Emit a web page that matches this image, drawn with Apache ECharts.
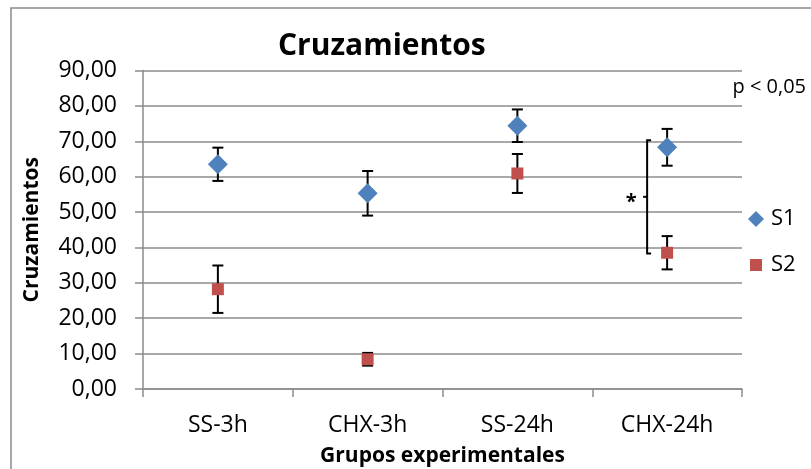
<!DOCTYPE html>
<html>
<head>
<meta charset="utf-8">
<script src="https://cdn.jsdelivr.net/npm/echarts@6/dist/echarts.min.js"></script>
<style>html,body{margin:0;padding:0;background:#fff}#c{width:811px;height:469px}</style>
</head>
<body>
<div id="c"></div>
<script>
const categories = ['SS-3h', 'CHX-3h', 'SS-24h', 'CHX-24h'];
const s1Values = [63.5, 55.3, 74.4, 68.3];
const s1Errors = [4.7, 6.3, 4.6, 5.2];
const s2Values = [28.2, 8.4, 60.9, 38.5];
const s2Errors = [6.7, 1.8, 5.5, 4.7];
const yTicks = [0, 10, 20, 30, 40, 50, 60, 70, 80, 90];
const bracketData = [[3, 38.3, 70.3]];
const pValueText = 'p < 0,05';

const FONT = 'Open Sans';
const chart = echarts.init(document.getElementById('c'));

function errData(vals, errs) {
  return vals.map((v, i) => [i, v - errs[i], v + errs[i]]);
}
function errRender(params, api) {
  const x = api.value(0);
  const lo = api.coord([x, api.value(1)]);
  const hi = api.coord([x, api.value(2)]);
  const w = 5.5;
  const st = { stroke: '#000', lineWidth: 2 };
  return {
    type: 'group',
    children: [
      { type: 'line', shape: { x1: hi[0], y1: hi[1], x2: lo[0], y2: lo[1] }, style: st },
      { type: 'line', shape: { x1: hi[0] - w, y1: hi[1], x2: hi[0] + w, y2: hi[1] }, style: st },
      { type: 'line', shape: { x1: lo[0] - w, y1: lo[1], x2: lo[0] + w, y2: lo[1] }, style: st }
    ]
  };
}
function bracketRender(params, api) {
  const x = api.value(0);
  const lo = api.coord([x, api.value(1)]);
  const hi = api.coord([x, api.value(2)]);
  const bx = lo[0] - 20;
  const mid = (lo[1] + hi[1]) / 2;
  const st = { stroke: '#000', lineWidth: 2, fill: null };
  return {
    type: 'group',
    children: [
      { type: 'polyline', shape: { points: [[bx + 4, hi[1]], [bx, hi[1]], [bx, lo[1]], [bx + 4, lo[1]]] }, style: st },
      { type: 'line', shape: { x1: bx - 4, y1: mid, x2: bx, y2: mid }, style: st },
      { type: 'text', x: bx - 16, y: mid + 5, style: { text: '*', font: 'bold 20px "' + FONT + '"', fill: '#000', align: 'center', verticalAlign: 'middle' } }
    ]
  };
}

const axisGray = '#8c8c8c';
chart.setOption({
  animation: false,
  backgroundColor: '#fff',
  title: {
    text: 'Cruzamientos', left: 278, top: 31, padding: 0,
    textStyle: { fontFamily: FONT, fontWeight: 'bold', fontSize: 30, color: '#000' }
  },
  graphic: [
    { type: 'rect', shape: { x: 11, y: 8, width: 900, height: 600 }, style: { fill: 'none', stroke: '#8a8a8a', lineWidth: 1.5 }, silent: true },
    { type: 'text', right: 5, top: 77, style: { text: pValueText, font: '20px "' + FONT + '"', fill: '#000' } }
  ],
  legend: [
    { data: [{ name: 'S1', icon: 'diamond' }], left: 748, top: 208, padding: 0, orient: 'vertical', itemWidth: 16, itemHeight: 16, itemGap: 0,
      textStyle: { fontFamily: FONT, fontSize: 22, color: '#000', padding: [0, 0, 0, 2] } },
    { data: [{ name: 'S2', icon: 'rect' }], left: 750, top: 254, padding: 0, orient: 'vertical', itemWidth: 12, itemHeight: 12, itemGap: 0,
      textStyle: { fontFamily: FONT, fontSize: 22, color: '#000', padding: [0, 0, 0, 4] } }
  ],
  grid: { left: 143, right: 69, top: 70.5, bottom: 80, containLabel: false, outerBoundsMode: 'none' },
  xAxis: {
    type: 'category', data: categories, boundaryGap: true,
    name: 'Grupos experimentales', nameLocation: 'middle', nameGap: 57,
    nameTextStyle: { fontFamily: FONT, fontWeight: 'bold', fontSize: 21, color: '#000' },
    axisLine: { lineStyle: { color: axisGray, width: 1.5 } },
    axisTick: { show: true, length: 8, inside: false, lineStyle: { color: axisGray, width: 1.5 }, alignWithLabel: false },
    axisLabel: { fontFamily: FONT, fontSize: 23, color: '#000', margin: 25 },
    splitLine: { show: false }
  },
  yAxis: {
    type: 'value', min: yTicks[0], max: yTicks[yTicks.length - 1], interval: yTicks[1] - yTicks[0],
    name: 'Cruzamientos', nameLocation: 'middle', nameGap: 100, nameRotate: 90,
    nameTextStyle: { fontFamily: FONT, fontWeight: 'bold', fontSize: 21, color: '#000' },
    axisLine: { show: true, lineStyle: { color: axisGray, width: 1.5 } },
    axisTick: { show: true, length: 8, lineStyle: { color: axisGray, width: 1.5 } },
    axisLabel: { fontFamily: FONT, fontSize: 23, color: '#000', margin: 26,
      formatter: v => v.toFixed(2).replace('.', ',') },
    splitLine: { show: true, lineStyle: { color: axisGray, width: 1.5 } }
  },
  series: [
    { type: 'custom', name: 'S1err', renderItem: errRender, data: errData(s1Values, s1Errors), encode: { x: 0, y: [1, 2] }, z: 2, silent: true },
    { type: 'custom', name: 'S2err', renderItem: errRender, data: errData(s2Values, s2Errors), encode: { x: 0, y: [1, 2] }, z: 2, silent: true },
    { type: 'scatter', name: 'S1', data: s1Values, symbol: 'diamond', symbolSize: 20, itemStyle: { color: '#4F81BD', opacity: 1 }, z: 3 },
    { type: 'scatter', name: 'S2', data: s2Values, symbol: 'rect', symbolSize: 12, itemStyle: { color: '#C0504D', opacity: 1 }, z: 3 },
    { type: 'custom', name: 'bracket', renderItem: bracketRender, data: bracketData, encode: { x: 0, y: [1, 2] }, z: 4, silent: true }
  ]
});
</script>
</body>
</html>
